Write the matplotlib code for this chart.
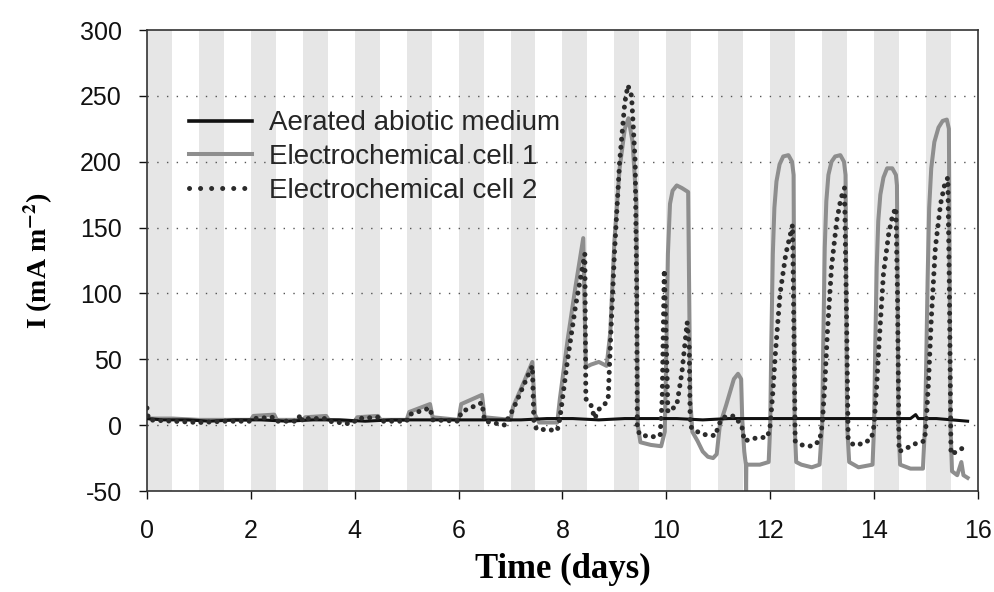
import matplotlib
matplotlib.use('Agg')
import matplotlib.pyplot as plt
from matplotlib.lines import Line2D

plt.rcParams['font.family'] = ['Liberation Sans', 'DejaVu Sans']
plt.rcParams['mathtext.fontset'] = 'stix'
plt.rcParams['mathtext.default'] = 'bf'
plt.rcParams['axes.unicode_minus'] = False  # 负号用普通连字符

# 曝气无菌介质 (基线)
t_abiotic = [0.0, 0.3, 0.8, 1.2, 1.7, 2.2, 2.7, 3.2, 3.7, 4.2, 4.7, 5.2, 5.7, 6.2,
             6.7, 7.2, 7.7, 8.2, 8.7, 9.2, 9.7, 10.2, 10.7, 11.2, 11.7, 12.2,
             12.7, 13.2, 13.7, 14.2, 14.7, 14.8, 14.85, 15.2, 15.5, 15.8]
i_abiotic = [5, 4, 4, 3, 4, 4, 3, 4, 4, 3, 4, 4, 4, 4,
             4, 4, 5, 5, 4, 5, 5, 5, 4, 5, 5, 5,
             5, 5, 5, 5, 5, 8, 5, 5, 4, 3]

# 电化学池 1 (灰色实线)
t_cell1 = [0.0, 0.05, 0.5, 1.0, 1.5, 2.0, 2.05, 2.45, 2.5, 3.0, 3.05, 3.45, 3.5,
           4.0, 4.05, 4.45, 4.5, 5.0, 5.05, 5.45, 5.5, 6.0, 6.05, 6.45, 6.5,
           7.0, 7.05, 7.25, 7.42, 7.47, 7.55, 7.9, 7.95, 8.1, 8.25, 8.4,
           8.45, 8.55, 8.7, 8.85, 8.92, 9.0, 9.1, 9.2, 9.27, 9.35, 9.42,
           9.45, 9.5, 9.7, 9.9, 9.97, 10.0, 10.03, 10.07, 10.12, 10.2, 10.3, 10.42,
           10.46, 10.5, 10.6, 10.7, 10.8, 10.9, 10.97, 11.03, 11.15, 11.3,
           11.38, 11.44, 11.46, 11.5, 11.53, 11.535, 11.54, 11.56, 11.8, 11.97,
           12.0, 12.02, 12.05, 12.08, 12.12, 12.18, 12.25, 12.35, 12.42, 12.45,
           12.47, 12.5, 12.6, 12.8, 12.95,
           13.0, 13.02, 13.05, 13.08, 13.12, 13.18, 13.25, 13.35, 13.42, 13.45,
           13.48, 13.52, 13.7, 13.97,
           14.0, 14.02, 14.05, 14.08, 14.12, 14.18, 14.25, 14.35, 14.42, 14.44,
           14.47, 14.5, 14.7, 14.94,
           14.98, 15.0, 15.03, 15.06, 15.1, 15.16, 15.24, 15.32, 15.4, 15.44,
           15.47, 15.5, 15.6, 15.68, 15.72, 15.8]
i_cell1 = [6, 5, 5, 4, 4, 4, 7, 8, 4, 4, 6, 7, 4,
           3, 6, 7, 4, 4, 10, 16, 6, 4, 16, 23, 6,
           4, 14, 32, 48, 8, 2, 2, 20, 65, 105, 142,
           44, 46, 48, 45, 70, 140, 195, 225, 233, 215, 170,
           0, -13, -15, -16, -5, 60, 130, 168, 178, 182, 180, 177,
           20, -5, -12, -20, -24, -25, -22, 0, 15, 35,
           39, 35, 5, -20, -30, -52, -30, -30, -30, -28,
           0, 60, 130, 165, 185, 198, 204, 205, 200, 190,
           0, -28, -30, -32, -30,
           0, 60, 135, 170, 190, 200, 204, 205, 200, 190,
           0, -28, -32, -30,
           0, 55, 120, 155, 175, 188, 195, 195, 190, 182,
           0, -30, -33, -33,
           0, 40, 110, 165, 195, 215, 226, 231, 232, 225,
           0, -35, -38, -28, -38, -40]

# 电化学池 2 (黑色点线)
t_cell2 = [0.0, 0.03, 0.5, 1.0, 1.5, 2.0, 2.05, 2.45, 2.5, 2.9, 2.95, 3.0,
           3.05, 3.45, 3.5, 3.9, 4.0, 4.05, 4.45, 4.5, 5.0, 5.05, 5.45, 5.5,
           6.0, 6.05, 6.45, 6.5, 6.9, 6.95, 7.05, 7.25, 7.42, 7.45, 7.5, 7.9,
           7.95, 8.1, 8.25, 8.43, 8.45, 8.55, 8.62, 8.7, 8.8, 8.88, 8.92,
           9.0, 9.1, 9.2, 9.26, 9.33, 9.4, 9.43, 9.44, 9.48, 9.7, 9.88,
           9.92, 9.96, 10.0, 10.03, 10.1, 10.2, 10.3, 10.4, 10.44, 10.46,
           10.5, 10.7, 10.95, 11.0, 11.1, 11.3, 11.45, 11.5, 11.7, 11.95,
           12.0, 12.05, 12.1, 12.19, 12.3, 12.43, 12.46, 12.48, 12.6, 12.8, 12.95,
           13.0, 13.05, 13.1, 13.18, 13.28, 13.36, 13.43, 13.47, 13.5, 13.6, 13.8,
           13.95, 14.0, 14.05, 14.1, 14.18, 14.28, 14.36, 14.42, 14.45, 14.48,
           14.6, 14.8, 14.97, 15.0, 15.05, 15.1, 15.18, 15.28, 15.36, 15.42, 15.45,
           15.48, 15.6, 15.8]
i_cell2 = [13, 4, 3, 2, 3, 3, 5, 6, 3, 3, 8, 3,
           5, 5, 3, 1, 3, 5, 6, 3, 3, 8, 13, 4,
           3, 10, 17, 3, 0, 5, 12, 30, 45, 2, -3, -4,
           5, 50, 90, 130, 20, 15, 5, 12, 15, 20, 60,
           130, 200, 245, 258, 250, 200, 100, 0, -7, -9, -8,
           20, 118, 60, 10, 12, 15, 40, 78, 60, 0,
           -3, -7, -8, 0, 6, 7, 0, -12, -10, -9,
           0, 25, 55, 100, 130, 152, 60, -12, -15, -16, -12,
           0, 30, 70, 120, 155, 172, 180, 80, -10, -15, -14,
           -10, 0, 30, 65, 115, 145, 160, 165, 100, -20,
           -18, -14, -12, 0, 35, 80, 135, 168, 183, 188, 100,
           -22, -20, -15]

fig = plt.figure(figsize=(9.95, 5.92), dpi=100)
ax = fig.add_axes([0.1477, 0.1706, 0.8352, 0.7787])

# 每天的灰色条带
for d in range(16):
    ax.axvspan(d, d + 0.48, color='#e6e6e6', lw=0, zorder=0)

for yv in range(0, 300, 50):
    ax.axhline(yv, color='#555555', lw=1.0, ls=(0, (1, 6)), zorder=1)

ax.plot(t_cell1, i_cell1, color='#8e8e8e', lw=2.9, zorder=2, label='Electrochemical cell 1')
ax.plot(t_abiotic, i_abiotic, color='#111111', lw=2.2, zorder=3, label='Aerated abiotic medium')
ax.plot(t_cell2, i_cell2, color='#2b2b2b', lw=3.6, ls=(0, (0.01, 1.6)),
        dash_capstyle='round', zorder=4, label='Electrochemical cell 2')

ax.set_xlim(0, 16)
ax.set_ylim(-50, 300)
ax.set_xticks(range(0, 17, 2))
ax.set_yticks(range(-50, 301, 50))
ax.tick_params(direction='out', length=6, width=1, labelsize=18, colors='#111111')
ax.tick_params(axis='y', pad=12)
ax.tick_params(axis='x', pad=14)
for s in ax.spines.values():
    s.set_color('#333333')
    s.set_linewidth(1.2)

ax.set_xlabel('Time (days)', family='Liberation Serif', fontweight='bold', fontsize=25, labelpad=7)
ax.set_ylabel('I (mA m$^{-2}$)', family='Liberation Serif', fontweight='bold', fontsize=20, labelpad=18)

handles = [Line2D([], [], color='#111111', lw=2.6),
           Line2D([], [], color='#8e8e8e', lw=2.9),
           Line2D([], [], color='#2b2b2b', lw=3.6, ls=(0, (0.01, 2.2)), dash_capstyle='round')]
labels = ['Aerated abiotic medium', 'Electrochemical cell 1', 'Electrochemical cell 2']
leg = ax.legend(handles, labels, loc='upper left', bbox_to_anchor=(0.02, 0.88),
                frameon=False, fontsize=20, handlelength=2.3, handletextpad=0.6,
                labelspacing=0.28)
for txt in leg.get_texts():
    txt.set_color('#262626')

fig.savefig('out.png', dpi=100)
